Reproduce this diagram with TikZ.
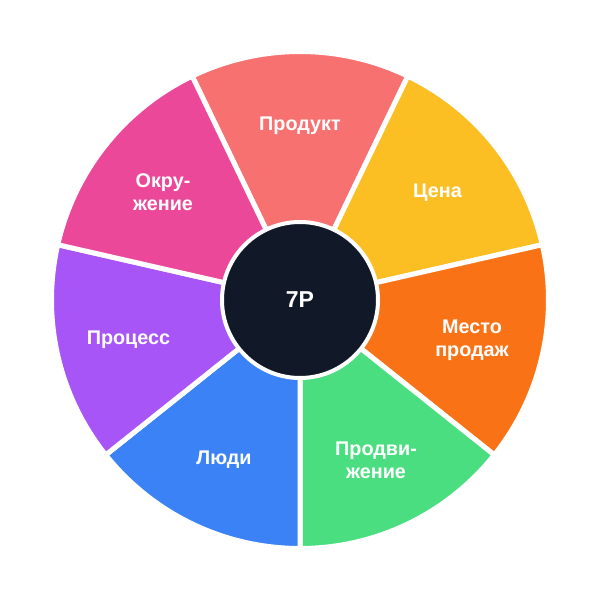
\documentclass[tikz,border=0pt]{standalone}
\usepackage{fontspec}
\setmainfont{Liberation Sans}
\usepackage{tikz}

\definecolor{prodc}{HTML}{F87171}
\definecolor{cenac}{HTML}{FBBF24}
\definecolor{mestoc}{HTML}{F97316}
\definecolor{dvizhc}{HTML}{4ADE80}
\definecolor{lyudic}{HTML}{3B82F6}
\definecolor{procc}{HTML}{A855F7}
\definecolor{okrc}{HTML}{EC4899}
\definecolor{hubc}{HTML}{111827}

\tikzset{
  sector/.style={draw=white,line width=5pt,line join=round},
  lbl/.style={text=white,font=\bfseries\fontsize{19.8}{23}\selectfont,align=center}
}

\begin{document}
\begin{tikzpicture}[x=1pt,y=1pt]
            \useasboundingbox[fill=white] (0,0) rectangle (600,600);
            % sectors of the wheel
            \draw[sector,fill=prodc] (300,300) -- +(64.286:248.5) arc[start angle=64.286,end angle=115.714,radius=248.5] -- cycle;
            \draw[sector,fill=cenac] (300,300) -- +(12.857:248.5) arc[start angle=12.857,end angle=64.286,radius=248.5] -- cycle;
            \draw[sector,fill=mestoc] (300,300) -- +(-38.571:248.5) arc[start angle=-38.571,end angle=12.857,radius=248.5] -- cycle;
            \draw[sector,fill=dvizhc] (300,300) -- +(-90:248.5) arc[start angle=-90,end angle=-38.571,radius=248.5] -- cycle;
            \draw[sector,fill=lyudic] (300,300) -- +(218.571:248.5) arc[start angle=218.571,end angle=270,radius=248.5] -- cycle;
            \draw[sector,fill=procc] (300,300) -- +(167.143:248.5) arc[start angle=167.143,end angle=218.571,radius=248.5] -- cycle;
            \draw[sector,fill=okrc] (300,300) -- +(115.714:248.5) arc[start angle=115.714,end angle=167.143,radius=248.5] -- cycle;
            % labels
            \node[lbl] at (300,474) (prod) {Продукт};
            \node[lbl] at (437.5,407.6) (cena) {Цена};
            \node[lbl] at (472,259.6) (mesto) {Место\\продаж};
            \node[lbl] at (376,139.5) (dvizh) {Продви-\\жение};
            \node[lbl] at (224,140) (lyudi) {Люди};
            \node[lbl] at (128.5,260.6) (proc) {Процесс};
            \node[lbl] at (163,407.6) (okr) {Окру-\\жение};
            \node[circle,fill=hubc,draw=white,line width=4pt,minimum size=156pt,inner sep=0pt,text=white,font=\bfseries\fontsize{23}{27}\selectfont] at (300,300) (hub) {7P};
        \end{tikzpicture}
\end{document}
